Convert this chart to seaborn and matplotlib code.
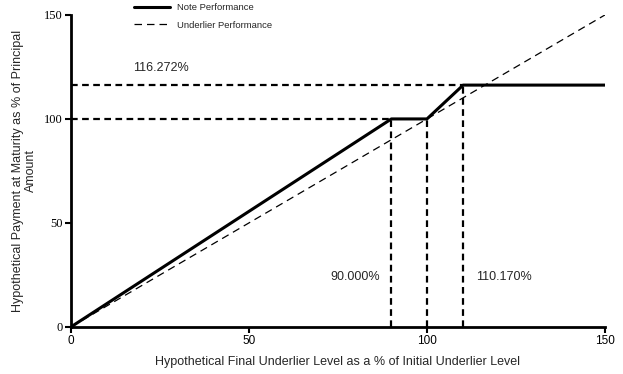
import matplotlib
matplotlib.use("Agg")
import matplotlib.pyplot as plt
import seaborn as sns
import pandas as pd

note_x = [0, 90, 100, 110.17, 150]
note_y = [0, 100, 100, 116.272, 116.272]
under_x = [0, 150]
under_y = [0, 150]
ticks = [0, 50, 100, 150]

sns.set_theme(style="white")
plt.rcParams['font.family'] = ['Liberation Sans', 'DejaVu Sans']

fig = plt.figure(figsize=(6.23, 3.74), dpi=100)
ax = fig.add_axes([0.114, 0.126, 0.857, 0.834])

note_df = pd.DataFrame({"x": note_x, "y": note_y})
under_df = pd.DataFrame({"x": under_x, "y": under_y})

sns.lineplot(data=note_df, x="x", y="y", ax=ax, color="black", lw=2.2,
             label="Note Performance", sort=False)
sns.lineplot(data=under_df, x="x", y="y", ax=ax, color="black", lw=0.9,
             linestyle=(0, (6, 4)), label="Underlier Performance", sort=False)

# reference dashed lines
dkw = dict(color="black", lw=1.6, linestyle=(0, (3, 2)), zorder=1)
ax.plot([0, 90], [100, 100], **dkw)
ax.plot([0, 110.17], [116.272, 116.272], **dkw)
ax.plot([90, 90], [0, 100], **dkw)
ax.plot([100, 100], [0, 100], **dkw)
ax.plot([110.17, 110.17], [0, 116.272], **dkw)

ax.text(17.4, 124.5, "116.272%", fontsize=9, va="center", ha="left")
ax.text(72.8, 24, "90.000%", fontsize=9, va="center", ha="left")
ax.text(113.8, 24, "110.170%", fontsize=9, va="center", ha="left")

ax.set_xlim(0, 150)
ax.set_ylim(0, 150)
ax.set_xticks(ticks)
ax.set_yticks(ticks)
ax.set_yticklabels([str(t) for t in ticks], fontfamily="Liberation Serif", fontsize=9)
ax.set_xticklabels([str(t) for t in ticks], fontsize=8.5)
ax.set_xlabel("Hypothetical Final Underlier Level as a % of Initial Underlier Level", fontsize=9, labelpad=6)
ax.set_ylabel("Hypothetical Payment at Maturity as % of Principal\nAmount", fontsize=9,
              labelpad=6, multialignment="center")
ax.yaxis.set_label_coords(-0.063, 0.5)

for s in ["top", "right"]:
    ax.spines[s].set_visible(False)
for s in ["left", "bottom"]:
    ax.spines[s].set_color("black")
    ax.spines[s].set_linewidth(2)
ax.tick_params(axis="both", which="major", direction="out", length=4, width=1.5,
               color="black", left=True, bottom=True, labelcolor="black", pad=2)

leg = ax.legend(loc="upper left", bbox_to_anchor=(0.11, 1.05), frameon=False,
                fontsize=6.8, handlelength=3.9, handletextpad=0.7,
                labelspacing=0.9, borderaxespad=0)

fig.savefig("out.png", dpi=100)
